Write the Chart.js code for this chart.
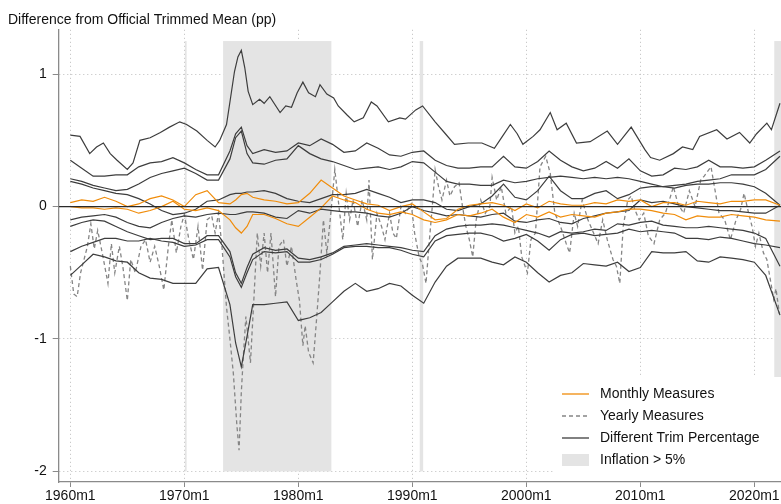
<!DOCTYPE html>
<html>
<head>
<meta charset="utf-8">
<script src="https://cdn.jsdelivr.net/npm/chart.js@4.4.0/dist/chart.umd.min.js"></script>
<style>
  html, body { margin: 0; padding: 0; background: #fff; }
  #wrap { width: 781px; height: 504px; position: relative; }
</style>
</head>
<body>
<div id="wrap"><canvas id="trimChart"></canvas></div>
<script>
// Sample dates (decimal years) shared by most trim and monthly series
const years = [1960, 1961, 1962, 1963, 1964, 1965, 1966, 1967, 1968, 1969, 1970, 1971, 1972, 1973, 1974,
  1974.5, 1975, 1975.5,
  1976, 1977, 1978, 1979, 1980, 1981, 1982, 1983, 1984, 1985,
  1986, 1987, 1988, 1989, 1990, 1991, 1992, 1993, 1994, 1995,
  1996, 1997, 1998, 1999, 2000, 2001, 2002, 2003, 2004, 2005,
  2006, 2007, 2008, 2009, 2010, 2011, 2012, 2013, 2014, 2015,
  2016, 2017, 2018, 2019, 2020, 2021, 2022.25];

// Top trim line, read at its turning points
const trimADates = [1960.0, 1960.85, 1961.7, 1962.3, 1962.9, 1963.5, 1964.1, 1965.0, 1965.5, 1966.1,
  1967.0, 1967.9, 1968.7, 1969.6, 1970.2, 1971.1, 1972.0, 1972.7, 1973.1, 1973.7,
  1974.0, 1974.4, 1974.7, 1975.0, 1975.3, 1975.6, 1976.0, 1976.6, 1977.0, 1977.5,
  1978.4, 1978.9, 1979.4, 1979.9, 1980.4, 1980.9, 1981.5, 1981.9, 1982.5, 1983.1,
  1983.5, 1984.3, 1984.9, 1985.7, 1986.4, 1986.9, 1987.9, 1988.9, 1989.4, 1990.3,
  1990.9, 1992.0, 1992.9, 1993.7, 1994.9, 1996.1, 1997.2, 1997.9, 1998.6, 1999.2,
  1999.7, 2000.6, 2001.2, 2002.1, 2002.7, 2003.5, 2004.4, 2005.6, 2007.1, 2008.0,
  2009.2, 2010.4, 2010.9, 2011.7, 2012.9, 2013.7, 2014.6, 2015.2, 2016.7, 2017.6,
  2018.7, 2019.6, 2020.2, 2021.1, 2021.5, 2022.25];
const trimA = [0.54, 0.53, 0.40, 0.45, 0.48, 0.40, 0.35, 0.28, 0.33, 0.50,
  0.52, 0.56, 0.60, 0.64, 0.62, 0.57, 0.50, 0.45, 0.50, 0.62,
  0.79, 1.02, 1.13, 1.18, 1.05, 0.87, 0.77, 0.81, 0.78, 0.83,
  0.71, 0.76, 0.75, 0.86, 0.94, 0.86, 0.83, 0.92, 0.85, 0.82,
  0.76, 0.69, 0.64, 0.67, 0.79, 0.76, 0.64, 0.67, 0.66, 0.73,
  0.76, 0.64, 0.55, 0.47, 0.48, 0.48, 0.44, 0.53, 0.62, 0.55,
  0.47, 0.53, 0.58, 0.71, 0.58, 0.63, 0.48, 0.49, 0.57, 0.47,
  0.60, 0.43, 0.37, 0.35, 0.40, 0.45, 0.43, 0.53, 0.58, 0.51,
  0.56, 0.48, 0.55, 0.63, 0.58, 0.78];

// Other trim percentages (top to bottom), on the shared dates
const trimB = [0.35, 0.29, 0.23, 0.23, 0.24, 0.24, 0.30, 0.33, 0.34, 0.37, 0.33, 0.28, 0.24, 0.24, 0.42,
  0.55, 0.60, 0.46,
  0.40, 0.43, 0.41, 0.42, 0.48, 0.46, 0.51, 0.47, 0.41, 0.42,
  0.48, 0.44, 0.39, 0.38, 0.41, 0.42, 0.35, 0.31, 0.29, 0.29,
  0.30, 0.30, 0.38, 0.30, 0.29, 0.34, 0.42, 0.35, 0.30, 0.27,
  0.29, 0.34, 0.29, 0.36, 0.27, 0.23, 0.24, 0.29, 0.28, 0.30,
  0.35, 0.30, 0.30, 0.29, 0.30, 0.35, 0.42];
const trimC = [0.21, 0.19, 0.16, 0.14, 0.12, 0.13, 0.17, 0.22, 0.25, 0.27, 0.29, 0.25, 0.20, 0.20, 0.36,
  0.52, 0.57, 0.40,
  0.33, 0.32, 0.35, 0.36, 0.46, 0.40, 0.36, 0.34, 0.31, 0.28,
  0.29, 0.30, 0.28, 0.30, 0.34, 0.33, 0.26, 0.19, 0.17, 0.17,
  0.16, 0.16, 0.20, 0.18, 0.19, 0.21, 0.22, 0.23, 0.22, 0.21,
  0.22, 0.21, 0.22, 0.21, 0.19, 0.17, 0.15, 0.16, 0.17, 0.19,
  0.20, 0.21, 0.24, 0.24, 0.24, 0.28, 0.38];
const trimD = [0.19, 0.17, 0.14, 0.12, 0.10, 0.09, 0.06, 0.02, -0.03, -0.06, -0.05, -0.02, 0.04, 0.05, 0.09,
  0.10, 0.10, 0.11,
  0.11, 0.12, 0.10, 0.06, 0.04, 0.03, 0.06, 0.09, 0.09, 0.10,
  0.13, 0.10, 0.07, 0.03, 0.05, 0.05, 0.03, -0.02, -0.03, 0.00,
  0.02, 0.08, 0.17, 0.07, 0.05, 0.12, 0.23, 0.12, 0.06, 0.06,
  0.10, 0.12, 0.06, 0.09, 0.14, 0.15, 0.15, 0.14, 0.16, 0.17,
  0.17, 0.18, 0.18, 0.17, 0.15, 0.10, 0.01];
const trimE = [-0.10, -0.08, -0.07, -0.06, -0.08, -0.12, -0.15, -0.16, -0.12, -0.09, -0.07, -0.08, -0.06, -0.05, -0.06,
  -0.06, -0.05, -0.04,
  -0.04, -0.05, -0.08, -0.09, -0.03, -0.05, -0.02, -0.03, -0.04, -0.04,
  -0.05, -0.07, -0.08, -0.05, 0.00, -0.03, -0.05, -0.07, -0.06, -0.07,
  -0.08, -0.06, -0.05, -0.11, -0.12, -0.10, -0.09, -0.12, -0.13, -0.09,
  -0.07, -0.05, -0.04, -0.03, 0.05, 0.03, 0.04, 0.02, 0.00, -0.01,
  -0.02, -0.03, -0.03, -0.04, -0.05, -0.05, 0.01];
const trimF = [-0.15, -0.12, -0.10, -0.11, -0.15, -0.19, -0.22, -0.25, -0.24, -0.24, -0.28, -0.28, -0.22, -0.22, -0.34,
  -0.50, -0.58, -0.46,
  -0.36, -0.31, -0.33, -0.32, -0.39, -0.40, -0.38, -0.35, -0.30, -0.29,
  -0.28, -0.29, -0.30, -0.31, -0.33, -0.34, -0.22, -0.17, -0.15, -0.14,
  -0.14, -0.13, -0.14, -0.16, -0.18, -0.20, -0.23, -0.19, -0.20, -0.19,
  -0.17, -0.18, -0.13, -0.14, -0.12, -0.11, -0.14, -0.15, -0.16, -0.16,
  -0.15, -0.16, -0.17, -0.18, -0.20, -0.24, -0.45];
const trimG = [-0.34, -0.30, -0.27, -0.24, -0.24, -0.26, -0.26, -0.24, -0.26, -0.27, -0.30, -0.29, -0.25, -0.25, -0.38,
  -0.53, -0.61, -0.50,
  -0.40, -0.34, -0.35, -0.34, -0.42, -0.42, -0.40, -0.36, -0.31, -0.30,
  -0.30, -0.31, -0.31, -0.33, -0.36, -0.38, -0.26, -0.22, -0.21, -0.20,
  -0.20, -0.22, -0.26, -0.24, -0.21, -0.26, -0.33, -0.25, -0.21, -0.20,
  -0.22, -0.21, -0.20, -0.17, -0.19, -0.18, -0.19, -0.20, -0.24, -0.24,
  -0.25, -0.23, -0.24, -0.26, -0.28, -0.29, -0.31];
const trimH = [-0.52, -0.44, -0.36, -0.38, -0.41, -0.42, -0.50, -0.54, -0.55, -0.58, -0.58, -0.58, -0.47, -0.46, -0.74,
  -1.03, -1.21, -0.98,
  -0.74, -0.74, -0.73, -0.72, -0.86, -0.84, -0.80, -0.72, -0.64, -0.58,
  -0.64, -0.62, -0.58, -0.60, -0.67, -0.73, -0.57, -0.45, -0.39, -0.39,
  -0.39, -0.42, -0.44, -0.38, -0.42, -0.50, -0.57, -0.52, -0.50, -0.43,
  -0.44, -0.45, -0.42, -0.49, -0.46, -0.34, -0.35, -0.35, -0.34, -0.41,
  -0.42, -0.38, -0.39, -0.40, -0.42, -0.52, -0.82];

// Monthly measures (orange)
const monthlyA = [0.03, 0.05, 0.04, 0.07, 0.04, 0.00, 0.02, 0.06, 0.08, 0.05, 0.00, 0.09, 0.12, 0.03, 0.02,
  0.05, 0.09, 0.10,
  0.07, 0.05, 0.04, 0.02, 0.03, 0.10, 0.20, 0.14, 0.08, 0.05,
  0.02, 0.01, -0.03, 0.00, 0.02, -0.04, -0.10, -0.09, -0.02, 0.01,
  0.02, 0.03, 0.01, -0.03, 0.02, -0.01, 0.04, 0.02, 0.01, 0.01,
  0.03, 0.02, 0.05, 0.04, 0.05, 0.00, 0.03, 0.03, 0.01, 0.04,
  0.03, 0.02, 0.04, 0.04, 0.05, 0.05, 0.01];
const monthlyB = [0.00, -0.01, -0.01, -0.02, -0.01, -0.02, -0.05, -0.03, 0.00, 0.04, -0.02, -0.03, -0.01, -0.03, -0.10,
  -0.16, -0.20, -0.15,
  -0.06, -0.06, -0.09, -0.13, -0.15, -0.08, -0.01, 0.08, 0.05, 0.03,
  -0.02, -0.05, -0.06, -0.04, -0.06, -0.10, -0.12, -0.10, -0.06, -0.07,
  -0.05, -0.02, -0.08, -0.12, -0.06, -0.08, -0.04, -0.08, -0.06, -0.07,
  -0.08, -0.05, -0.04, -0.02, -0.02, -0.03, -0.05, -0.06, -0.10, -0.07,
  -0.08, -0.08, -0.06, -0.07, -0.08, -0.10, -0.11];

// Yearly measures (grey dashed) on their own dates
const yearlyDates = [1960.0, 1960.3, 1960.6, 1960.9, 1961.2, 1961.5, 1961.8, 1962.1, 1962.4, 1962.8,
  1963.3, 1963.6, 1963.9, 1964.3, 1964.6, 1965.0, 1965.3, 1965.7, 1966.2, 1966.6,
  1967.0, 1967.4, 1967.8, 1968.2, 1968.6, 1968.9, 1969.3, 1969.7, 1970.0, 1970.4,
  1970.8, 1971.2, 1971.6, 1972.0, 1972.4, 1972.7, 1973.0, 1973.3, 1973.7, 1974.0,
  1974.3, 1974.6, 1974.8, 1975.0, 1975.2, 1975.4, 1975.8, 1976.1, 1976.4, 1976.7,
  1977.0, 1977.3, 1977.6, 1978.0, 1978.3, 1978.7, 1979.0, 1979.4, 1979.8, 1980.1,
  1980.4, 1980.6, 1980.9, 1981.3, 1981.6, 1981.9, 1982.2, 1982.5, 1982.8, 1983.2,
  1983.5, 1983.9, 1984.2, 1984.5, 1984.8, 1985.2, 1985.6, 1986.0, 1986.2, 1986.5,
  1986.9, 1987.3, 1987.6, 1988.0, 1988.3, 1988.6, 1989.0, 1989.4, 1989.9, 1990.2,
  1990.6, 1990.9, 1991.2, 1991.5, 1991.8, 1992.0, 1992.3, 1992.6, 1993.0, 1993.3,
  1993.7, 1994.1, 1994.4, 1994.7, 1995.0, 1995.3, 1995.6, 1996.0, 1996.4, 1996.8,
  1997.0, 1997.4, 1997.8, 1998.2, 1998.7, 1999.0, 1999.3, 1999.6, 2000.1, 2000.4,
  2000.8, 2001.2, 2001.7, 2002.1, 2002.5, 2003.0, 2003.5, 2003.8, 2004.2, 2004.5,
  2004.9, 2005.4, 2005.9, 2006.3, 2006.7, 2007.1, 2007.6, 2007.9, 2008.2, 2008.5,
  2008.9, 2009.2, 2009.5, 2009.9, 2010.3, 2010.7, 2011.2, 2011.7, 2012.2, 2012.9,
  2013.3, 2013.8, 2014.3, 2014.8, 2015.3, 2015.6, 2016.2, 2016.5, 2016.9, 2017.4,
  2017.9, 2018.4, 2018.8, 2019.1, 2019.5, 2019.8, 2020.1, 2020.4, 2020.8, 2021.1,
  2021.4, 2021.7, 2021.9, 2022.2];
const yearlyVals = [-0.45, -0.66, -0.68, -0.50, -0.40, -0.30, -0.13, -0.32, -0.18, -0.35,
  -0.58, -0.28, -0.50, -0.30, -0.45, -0.71, -0.40, -0.50, -0.30, -0.25,
  -0.42, -0.30, -0.45, -0.63, -0.30, -0.10, -0.35, -0.15, -0.06, -0.25,
  -0.40, -0.15, -0.48, -0.10, -0.07, -0.20, -0.05, -0.30, -0.76, -1.00,
  -1.26, -1.64, -1.84, -1.40, -1.10, -0.83, -1.18, -0.70, -0.20, -0.45,
  -0.20, -0.50, -0.20, -0.68, -0.30, -0.25, -0.45, -0.30, -0.55, -0.71,
  -1.05, -0.90, -1.10, -1.18, -0.85, -0.50, -0.10, -0.35, -0.10, 0.28,
  0.05, -0.25, 0.10, -0.10, 0.05, -0.15, 0.05, -0.10, 0.20, -0.40,
  -0.05, -0.15, -0.25, -0.05, -0.20, -0.24, 0.00, -0.05, 0.02, -0.20,
  -0.38, -0.44, -0.58, -0.25, 0.05, 0.28, 0.15, 0.05, 0.20, 0.08,
  0.15, 0.18, 0.00, -0.15, -0.25, -0.38, -0.10, 0.05, -0.05, 0.00,
  0.22, 0.05, 0.15, -0.05, 0.00, -0.20, -0.15, -0.38, -0.50, -0.25,
  -0.20, 0.30, 0.38, 0.25, -0.05, -0.15, -0.28, -0.35, -0.05, -0.15,
  0.05, -0.10, -0.20, -0.28, -0.10, -0.25, -0.40, -0.45, -0.58, -0.15,
  0.05, 0.08, -0.02, -0.10, -0.05, -0.22, -0.28, -0.10, -0.05, 0.15,
  0.02, -0.05, 0.12, 0.00, 0.20, 0.23, 0.30, 0.15, -0.05, -0.10,
  -0.25, -0.10, -0.02, 0.10, -0.05, -0.15, -0.30, -0.20, -0.35, -0.40,
  -0.55, -0.70, -0.62, -0.81];

// Periods with inflation above 5%
const bandStarts = [1970.05, 1973.4, 1990.65, 2021.75];
const bandEnds = [1970.2, 1982.9, 1990.95, 2022.6];
const bandTop = 1.25;
const bandBottom = -2;

// Axis ticks
const xTicks = [1960, 1970, 1980, 1990, 2000, 2010, 2020];
const yTicks = [-2, -1, 0, 1];
const xMin = 1958.98, xMax = 2022.34;
const yMin = -2.08, yMax = 1.335;

const FONT = "'Liberation Sans', Arial, sans-serif";
const TRIM_COLOR = '#3d3d3d';
const MONTHLY_COLOR = '#f08c0a';
const YEARLY_COLOR = '#858585';
const BAND_COLOR = '#e4e4e4';

function toPoints(xs, ys) {
    return ys.map((v, i) => ({ x: xs[i], y: v }));
}

const datasets = [];

// Horizontal reference line at zero
datasets.push({
    label: 'zero',
    data: [{ x: xMin, y: 0 }, { x: xMax, y: 0 }],
    borderColor: '#2a2a2a',
    borderWidth: 1.3,
    order: 0
});

[monthlyA, monthlyB].forEach((vals, i) => {
    datasets.push({
        label: i === 0 ? 'Monthly Measures' : 'Monthly Measures ' + (i + 1),
        data: toPoints(years, vals),
        borderColor: MONTHLY_COLOR,
        borderWidth: 1.2,
        order: 1
    });
});

datasets.push({
    label: 'Different Trim Percentage',
    data: toPoints(trimADates, trimA),
    borderColor: TRIM_COLOR,
    borderWidth: 1.2,
    order: 2
});
[trimB, trimC, trimD, trimE, trimF, trimG, trimH].forEach((vals, i) => {
    datasets.push({
        label: 'Trim ' + (i + 2),
        data: toPoints(years, vals),
        borderColor: TRIM_COLOR,
        borderWidth: 1.2,
        order: 2
    });
});

datasets.push({
    label: 'Yearly Measures',
    data: toPoints(yearlyDates, yearlyVals),
    borderColor: YEARLY_COLOR,
    borderWidth: 1.3,
    borderDash: [4, 3],
    order: 3
});

// Shaded inflation periods, drawn after the grid and before the lines
const bandPlugin = {
    id: 'inflationBands',
    beforeDatasetsDraw(chart) {
        const { ctx, chartArea, scales: { x, y } } = chart;
        ctx.save();
        ctx.beginPath();
        ctx.rect(chartArea.left, chartArea.top, chartArea.width, chartArea.height);
        ctx.clip();
        ctx.fillStyle = BAND_COLOR;
        const yTop = y.getPixelForValue(bandTop);
        const yBot = y.getPixelForValue(bandBottom);
        bandStarts.forEach((s, i) => {
            const x0 = x.getPixelForValue(s);
            const x1 = x.getPixelForValue(bandEnds[i]);
            ctx.fillRect(x0, yTop, Math.max(x1 - x0, 1.5), yBot - yTop);
        });
        ctx.restore();
    }
};

// Legend drawn inside the plot, bottom right, on a white box
const legendPlugin = {
    id: 'insideLegend',
    afterDraw(chart) {
        const { ctx, chartArea } = chart;
        const boxLeft = chartArea.right - 228;
        const boxTop = chartArea.bottom - 105;
        ctx.save();
        ctx.fillStyle = '#fff';
        ctx.fillRect(boxLeft, boxTop, 228, 103);

        const items = [
            { text: 'Monthly Measures', kind: 'line', color: MONTHLY_COLOR, dash: [] },
            { text: 'Yearly Measures', kind: 'line', color: YEARLY_COLOR, dash: [4, 3] },
            { text: 'Different Trim Percentage', kind: 'line', color: TRIM_COLOR, dash: [] },
            { text: 'Inflation > 5%', kind: 'box', color: BAND_COLOR }
        ];
        const x0 = boxLeft + 9;
        const x1 = boxLeft + 36;
        ctx.font = '14px ' + FONT;
        ctx.textBaseline = 'middle';
        items.forEach((it, i) => {
            const yc = boxTop + 17 + i * 22;
            if (it.kind === 'line') {
                ctx.strokeStyle = it.color;
                ctx.lineWidth = 1.3;
                ctx.setLineDash(it.dash);
                ctx.beginPath();
                ctx.moveTo(x0, yc);
                ctx.lineTo(x1, yc);
                ctx.stroke();
                ctx.setLineDash([]);
            } else {
                ctx.fillStyle = it.color;
                ctx.fillRect(x0, yc - 6, x1 - x0, 12);
            }
            ctx.fillStyle = '#111';
            ctx.fillText(it.text, boxLeft + 47, yc);
        });
        ctx.restore();
    }
};

window.onload = () => {
    const ctx = document.getElementById('trimChart').getContext('2d');
    new Chart(ctx, {
        type: 'line',
        data: { datasets: datasets },
        options: {
            responsive: true,
            maintainAspectRatio: false,
            animation: false,
            events: [],
            elements: {
                point: { radius: 0 },
                line: { tension: 0, fill: false }
            },
            layout: { padding: { left: 8, right: 0, top: 0, bottom: 0 } },
            plugins: {
                legend: { display: false },
                tooltip: { enabled: false },
                title: {
                    display: true,
                    text: 'Difference from Official Trimmed Mean (pp)',
                    align: 'start',
                    color: '#111',
                    font: { family: FONT, size: 14, weight: 'normal' },
                    padding: { top: 12, bottom: 1 }
                }
            },
            scales: {
                x: {
                    type: 'linear',
                    min: xMin,
                    max: xMax,
                    afterBuildTicks: (scale) => {
                        scale.ticks = xTicks.map(v => ({ value: v }));
                    },
                    afterFit: (scale) => { scale.height = 22; },
                    ticks: {
                        color: '#111',
                        font: { family: FONT, size: 14 },
                        padding: 1,
                        maxRotation: 0,
                        autoSkip: false,
                        callback: (v) => v + 'm1'
                    },
                    grid: {
                        color: '#bdbdbd',
                        lineWidth: 1,
                        tickLength: 5,
                        tickColor: '#8a8a8a',
                        tickBorderDash: []
                    },
                    border: { color: '#8a8a8a', width: 1.3, dash: [1, 3] }
                },
                y: {
                    type: 'linear',
                    min: yMin,
                    max: yMax,
                    afterBuildTicks: (scale) => {
                        scale.ticks = yTicks.map(v => ({ value: v }));
                    },
                    afterFit: (scale) => { scale.width = 50.7; },
                    ticks: {
                        color: '#111',
                        font: { family: FONT, size: 14 },
                        padding: 6,
                        callback: (v) => String(v)
                    },
                    grid: {
                        color: '#bdbdbd',
                        lineWidth: 1,
                        tickLength: 6,
                        tickColor: '#8a8a8a',
                        tickBorderDash: []
                    },
                    border: { color: '#8a8a8a', width: 1.3, dash: [1, 3] }
                }
            }
        },
        plugins: [bandPlugin, legendPlugin]
    });
};
</script>
</body>
</html>
